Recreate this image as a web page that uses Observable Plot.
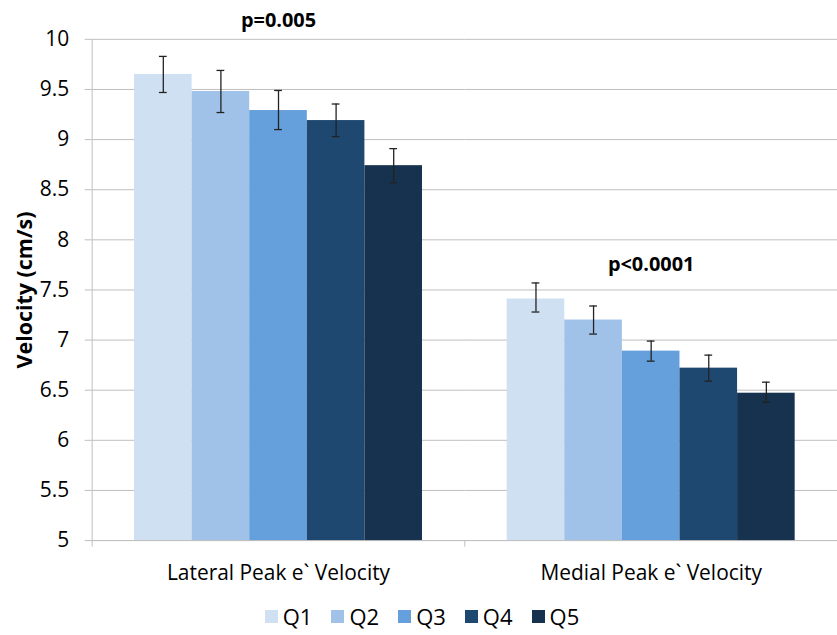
<!DOCTYPE html>
<html><head><meta charset="utf-8">
<script src="https://cdn.jsdelivr.net/npm/d3@7"></script>
<script src="https://cdn.jsdelivr.net/npm/@observablehq/plot@0.6"></script>
<style>
html,body{margin:0;padding:0;background:#fff;overflow:hidden;}
#chart{width:837px;}
</style></head><body><div id="chart"></div>
<script>
const categories = ["Lateral Peak e` Velocity", "Medial Peak e` Velocity"];
const quintiles = ["Q1", "Q2", "Q3", "Q4", "Q5"];
const colors = ["#D0E0F3", "#A0C2E9", "#65A0DD", "#1F4870", "#16324F"];
const lateralMean = [9.65, 9.48, 9.29, 9.19, 8.74];
const lateralLow  = [9.47, 9.27, 9.10, 9.03, 8.57];
const lateralHigh = [9.83, 9.69, 9.49, 9.355, 8.91];
const medialMean  = [7.41, 7.20, 6.89, 6.72, 6.47];
const medialLow   = [7.28, 7.06, 6.79, 6.59, 6.38];
const medialHigh  = [7.57, 7.34, 6.99, 6.85, 6.58];
const yTicks = [5, 5.5, 6, 6.5, 7, 7.5, 8, 8.5, 9, 9.5, 10];
const pLabels = ["p=0.005", "p<0.0001"];
const pLabelY = [10.19, 7.75];
const yTitle = "Velocity (cm/s)";

const means = [lateralMean, medialMean], lows = [lateralLow, medialLow], highs = [lateralHigh, medialHigh];
const rows = [];
categories.forEach((c, ci) => quintiles.forEach((q, qi) => rows.push({
  category: c, quintile: q, mean: means[ci][qi], low: lows[ci][qi], high: highs[ci][qi]
})));

const font = "'Open Sans', sans-serif";
const gray = "#bfbfbf";
const yBase = yTicks[0];

const plot = Plot.plot({
  width: 840, height: 595,
  marginTop: 39, marginBottom: 53, marginLeft: 92, marginRight: 0,
  facetMarginTop: 0, facetMarginBottom: 0, facetMarginLeft: 0, facetMarginRight: 0,
  style: {fontFamily: font, fontSize: "21px", color: "#000", background: "#fff", overflow: "visible"},
  fx: {domain: categories, padding: 0},
  x: {domain: quintiles, paddingInner: 0, paddingOuter: 0.735, axis: null, round: false},
  y: {domain: [yTicks[0], yTicks[yTicks.length - 1]], axis: null},
  color: {domain: quintiles, range: colors},
  marks: [
    Plot.gridY(yTicks, {stroke: gray, strokeOpacity: 1}),
    Plot.axisY(yTicks, {anchor: "left", tickSize: 7, tickPadding: 16, tickFormat: d => String(d), stroke: gray, label: null, fontSize: 21}),
    Plot.frame({anchor: "left", facetAnchor: "left", stroke: gray}),
    Plot.ruleY([yBase], {stroke: gray}),
    Plot.ruleX([quintiles[0]], {x: d => d, dx: -71.4, y1: yBase, y2: yBase - 0.065, stroke: gray}),
    Plot.barY(rows, {fx: "category", x: "quintile", y1: yBase, y2: "mean", fill: "quintile"}),
    Plot.ruleX(rows, {fx: "category", x: "quintile", y1: "low", y2: "high", stroke: "#222", strokeWidth: 1.3}),
    Plot.tickY(rows, {fx: "category", x: "quintile", y: "low", insetLeft: 25, insetRight: 25, stroke: "#222", strokeWidth: 1.3}),
    Plot.tickY(rows, {fx: "category", x: "quintile", y: "high", insetLeft: 25, insetRight: 25, stroke: "#222", strokeWidth: 1.3}),
    Plot.text(pLabels, {fx: categories, y: pLabelY, text: d => d, frameAnchor: "middle", fontWeight: "bold", fontSize: 20}),
    Plot.text([yTitle], {fx: [categories[0]], text: d => d, frameAnchor: "left", textAnchor: "middle", dx: -67, rotate: -90, fontWeight: "bold", fontSize: 21.5}),
    Plot.axisFx({anchor: "bottom", tickSize: 0, tickPadding: 25, label: null, fontSize: 21})
  ]
});
document.getElementById("chart").appendChild(plot);
const leg = plot.legend("color", {swatchSize: 13, style: {fontFamily: font, fontSize: "22px", color: "#000"}});
leg.style.justifyContent = "center";
leg.style.boxSizing = "border-box";
leg.style.width = "837px";
leg.style.paddingLeft = "26px";
leg.style.marginTop = "7px";
leg.querySelectorAll("span").forEach(s => { s.style.setProperty("margin-right", "19px", "important"); });
leg.querySelectorAll("svg").forEach(s => { s.style.setProperty("margin-right", "5px", "important"); });
document.getElementById("chart").appendChild(leg);
</script></body></html>
